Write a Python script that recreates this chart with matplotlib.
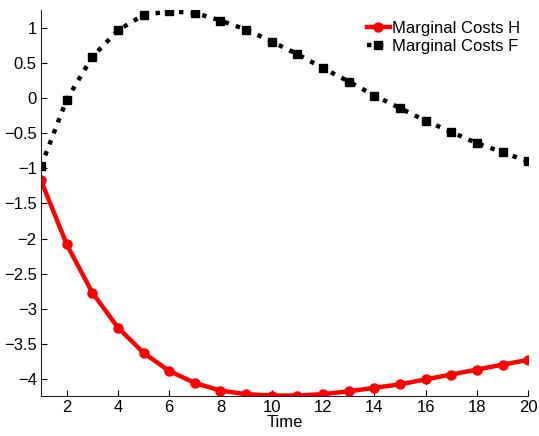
import matplotlib
matplotlib.use("Agg")
import matplotlib.pyplot as plt

time = list(range(1, 21))
mc_h = [-1.17, -2.08, -2.77, -3.27, -3.63, -3.89, -4.06, -4.17, -4.22, -4.24,
        -4.24, -4.22, -4.18, -4.13, -4.08, -4.01, -3.94, -3.87, -3.80, -3.73]
mc_f = [-0.97, -0.02, 0.59, 0.97, 1.19, 1.24, 1.22, 1.11, 0.98, 0.81,
        0.63, 0.43, 0.24, 0.04, -0.14, -0.32, -0.48, -0.64, -0.77, -0.90]
xticks = [2, 4, 6, 8, 10, 12, 14, 16, 18, 20]
yticks = [-4, -3.5, -3, -2.5, -2, -1.5, -1, -0.5, 0, 0.5, 1]
ytick_labels = ['\u22124', '\u22123.5', '\u22123', '\u22122.5', '\u22122', '\u22121.5',
                '\u22121', '\u22120.5', '0', '0.5', '1']

plt.rcParams['font.family'] = ['Liberation Sans', 'DejaVu Sans']

fig = plt.figure(figsize=(5.39, 4.36), dpi=100)
ax = fig.add_axes([0.076, 0.092, 0.904, 0.885])

ax.plot(time, mc_h, color='#ff0000', lw=3.2, marker='o', ms=6.5,
        label='Marginal Costs H')
ax.plot(time, mc_f, color='black', lw=3.2, ls=':', marker='s', ms=6,
        label='Marginal Costs F')

ax.set_xlim(1, 20)
ax.set_ylim(-4.245, 1.26)
ax.set_xticks(xticks)
ax.set_yticks(yticks)
ax.set_yticklabels(ytick_labels)
ax.tick_params(direction='in', length=4, labelsize=12, width=0.8, pad=3)
for s in ['top', 'right']:
    ax.spines[s].set_visible(False)
for s in ['left', 'bottom']:
    ax.spines[s].set_linewidth(0.8)
    ax.spines[s].set_color('#262626')
ax.set_xlabel('Time', fontsize=12, labelpad=0)

ax.legend(loc='upper right', bbox_to_anchor=(0.993, 0.985), frameon=False,
          fontsize=12, handlelength=1.4, handletextpad=0.1,
          borderaxespad=0.1, labelspacing=0.2, borderpad=0.2)

fig.savefig('out.png', dpi=100)
